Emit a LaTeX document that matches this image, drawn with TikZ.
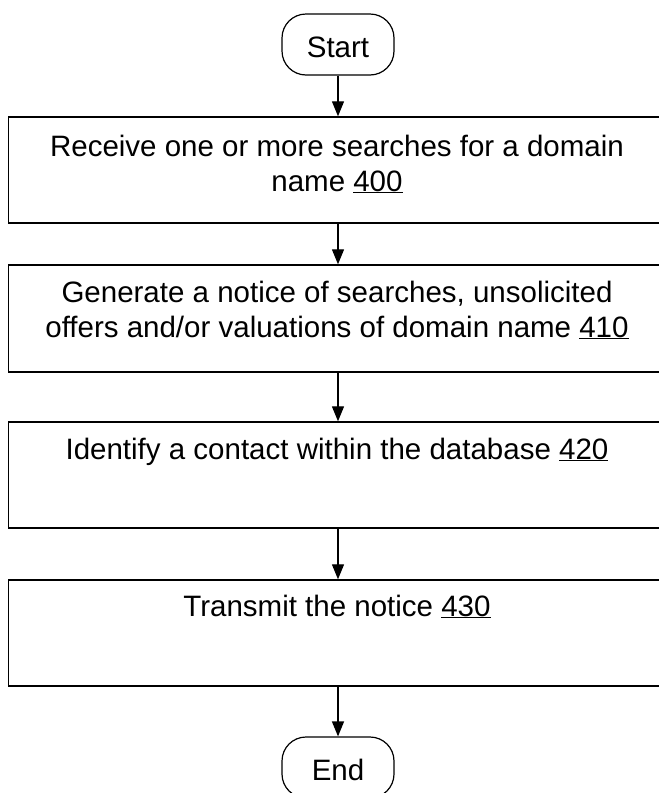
\documentclass[tikz,border=0pt]{standalone}
\usepackage{fontspec}
\setmainfont{Liberation Sans}
\usetikzlibrary{arrows.meta}
\begin{document}
\begin{tikzpicture}[x=1pt,y=1pt,
  box/.style={draw, line width=1.4pt, minimum width=659.5pt, minimum height=106pt, inner sep=0pt},
  term/.style={draw, line width=1.2pt, rounded corners=24pt, minimum width=112pt, minimum height=61pt, inner sep=0pt},
  txt/.style={font=\fontsize{29.5}{35}\selectfont, align=center, inner sep=0pt, anchor=base},
  arr/.style={line width=1.3pt, -{Triangle[width=12pt,length=15pt]}}]
\useasboundingbox (0,0) rectangle (659,-793);
\node[term] (start) at (338,-44.5) {};
\node[txt] (starttxt) at (338,-57) {Start};
\node[box] (b1) at (338.25,-170) {};
\node[box, minimum height=107pt] (b2) at (338.25,-318.5) {};
\node[box] (b3) at (338.25,-475) {};
\node[box] (b4) at (338.25,-633) {};
\node[term] (end) at (338,-767.5) {};
\node[txt] (endtxt) at (338,-780) {End};
\node[txt] (t1) at (337,-191) {Receive one or more searches for a domain\\name \underline{400}};
\node[txt] (t2) at (337,-337) {Generate a notice of searches, unsolicited\\offers and/or valuations of domain name \underline{410}};
\node[txt] (t3) at (337,-459) {Identify a contact within the database \underline{420}};
\node[txt] (t4) at (337,-616) {Transmit the notice \underline{430}};
\draw[arr] (start.south) -- (start.south |- b1.north);
\draw[arr] (b1.south -| start.south) -- (start.south |- b2.north);
\draw[arr] (b2.south -| start.south) -- (start.south |- b3.north);
\draw[arr] (b3.south -| start.south) -- (start.south |- b4.north);
\draw[arr] (b4.south -| start.south) -- (end.north);
\end{tikzpicture}
\end{document}
